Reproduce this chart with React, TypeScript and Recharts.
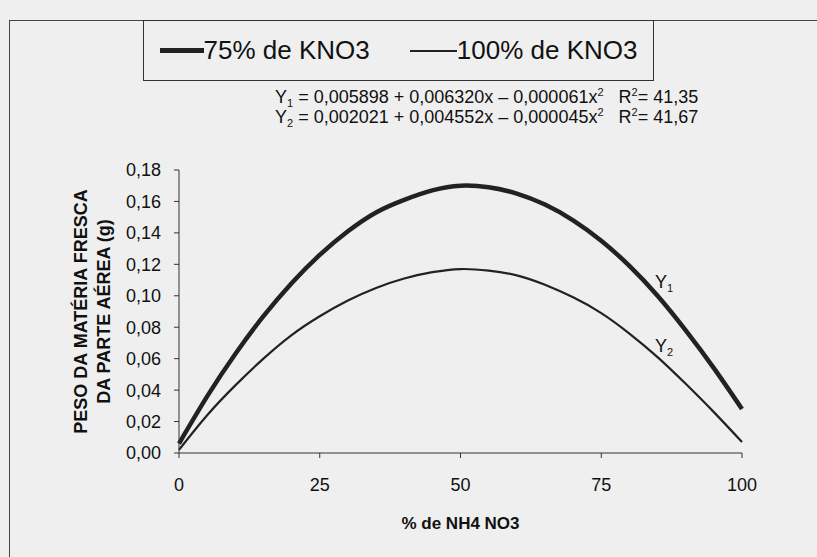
import React from "react";
import { LineChart, Line, XAxis, YAxis, Label } from "recharts";

// % de NH4 NO3
const doses = [0, 5, 10, 15, 20, 25, 30, 35, 40, 45, 50, 55, 60, 65, 70, 75, 80, 85, 90, 95, 100];
// 75% de KNO3 (Y1)
const kno3_75 = [0.006, 0.036, 0.063, 0.087, 0.108, 0.126, 0.141, 0.153, 0.161, 0.167, 0.170, 0.169, 0.165, 0.158, 0.148, 0.135, 0.119, 0.100, 0.078, 0.054, 0.028];
// 100% de KNO3 (Y2)
const kno3_100 = [0.002, 0.024, 0.043, 0.060, 0.075, 0.087, 0.097, 0.105, 0.111, 0.115, 0.117, 0.116, 0.113, 0.107, 0.099, 0.089, 0.076, 0.061, 0.044, 0.026, 0.007];

const xTicks = [0, 25, 50, 75, 100];
const yTicks = [0, 0.02, 0.04, 0.06, 0.08, 0.1, 0.12, 0.14, 0.16, 0.18];

const data = doses.map((d, i) => ({ dose: d, y1: kno3_75[i], y2: kno3_100[i] }));

const font = "'Liberation Sans', Arial, sans-serif";
const fmt = (v: number) => v.toFixed(2).replace(".", ",");

const Sub = ({ c }: { c: string }) => (
  <span style={{ fontSize: 11, lineHeight: 0, position: "relative", top: 4 }}>{c}</span>
);
const Sup = ({ c }: { c: string }) => (
  <span style={{ fontSize: 11, lineHeight: 0, position: "relative", top: -7 }}>{c}</span>
);

function YLabel(props: any) {
  const { viewBox } = props;
  const cx = 91;
  const cy = viewBox.y + viewBox.height / 2;
  return (
    <text
      transform={`rotate(-90, ${cx}, ${cy})`}
      x={cx}
      y={cy}
      textAnchor="middle"
      fontFamily={font}
      fontWeight="bold"
      fontSize={18}
      fill="#111"
    >
      <tspan x={cx} dy={-4}>PESO DA MATÉRIA FRESCA</tspan>
      <tspan x={cx} dy={23}>DA PARTE AÉREA (g)</tspan>
    </text>
  );
}

export default function App() {
  return (
    <div
      style={{
        position: "absolute",
        left: 0,
        top: 0,
        width: 817,
        height: 557,
        background: "#efefef",
        overflow: "hidden",
      }}
    >
      {/* outer frame */}
      <div
        style={{
          position: "absolute",
          left: 9,
          top: 20,
          width: 840,
          height: 600,
          borderLeft: "1px solid #444",
          borderTop: "1px solid #444",
        }}
      />
      {/* legend */}
      <div
        style={{
          position: "absolute",
          left: 143,
          top: 20,
          width: 511,
          height: 61,
          border: "1px solid #333",
          boxSizing: "border-box",
          display: "flex",
          alignItems: "center",
          justifyContent: "center",
          fontFamily: font,
          fontSize: 26,
          color: "#111",
        }}
      >
        <span style={{ display: "inline-block", width: 44, height: 5, background: "#222" }} />
        <span style={{ marginRight: 40 }}>75% de KNO3</span>
        <span style={{ display: "inline-block", width: 47, height: 2, background: "#222" }} />
        <span>100% de KNO3</span>
      </div>
      <LineChart
        width={817}
        height={557}
        data={data}
        margin={{ top: 170, right: 75, bottom: 0, left: 0 }}
        style={{ position: "absolute", left: 0, top: 0 }}
      >
        <XAxis
          dataKey="dose"
          type="number"
          domain={[0, 100]}
          ticks={xTicks}
          interval={0}
          height={104}
          tickSize={5}
          tickMargin={20}
          stroke="#333"
          tick={{ fill: "#111", fontSize: 18, fontFamily: font }}
        >
          <Label
            value="% de NH4 NO3"
            position="insideBottom"
            offset={28}
            style={{ fill: "#111", fontSize: 17, fontWeight: "bold", fontFamily: font }}
          />
        </XAxis>
        <YAxis
          type="number"
          domain={[0, 0.18]}
          ticks={yTicks}
          interval={0}
          width={179}
          tickSize={5}
          tickMargin={13}
          stroke="#333"
          tickFormatter={fmt}
          tick={{ fill: "#111", fontSize: 18, fontFamily: font }}
        >
          <Label content={<YLabel />} />
        </YAxis>
        <Line
          dataKey="y1"
          name="75% de KNO3"
          type="natural"
          stroke="#222"
          strokeWidth={4.5}
          dot={false}
          isAnimationActive={false}
        />
        <Line
          dataKey="y2"
          name="100% de KNO3"
          type="natural"
          stroke="#222"
          strokeWidth={2.2}
          dot={false}
          isAnimationActive={false}
        />
      </LineChart>
      {/* regression equations */}
      <div
        style={{
          position: "absolute",
          left: 275,
          top: 87,
          fontFamily: font,
          fontSize: 18,
          color: "#111",
          lineHeight: "20px",
          whiteSpace: "pre",
        }}
      >
        <div>
          Y<Sub c="1" /> = 0,005898 + 0,006320x – 0,000061x<Sup c="2" />
          {"   "}R<Sup c="2" />= 41,35
        </div>
        <div>
          Y<Sub c="2" /> = 0,002021 + 0,004552x – 0,000045x<Sup c="2" />
          {"   "}R<Sup c="2" />= 41,67
        </div>
      </div>
      {/* curve labels */}
      <div style={{ position: "absolute", left: 655, top: 272, fontFamily: font, fontSize: 18, color: "#111", lineHeight: "20px" }}>
        Y<Sub c="1" />
      </div>
      <div style={{ position: "absolute", left: 655, top: 336, fontFamily: font, fontSize: 18, color: "#111", lineHeight: "20px" }}>
        Y<Sub c="2" />
      </div>
    </div>
  );
}
